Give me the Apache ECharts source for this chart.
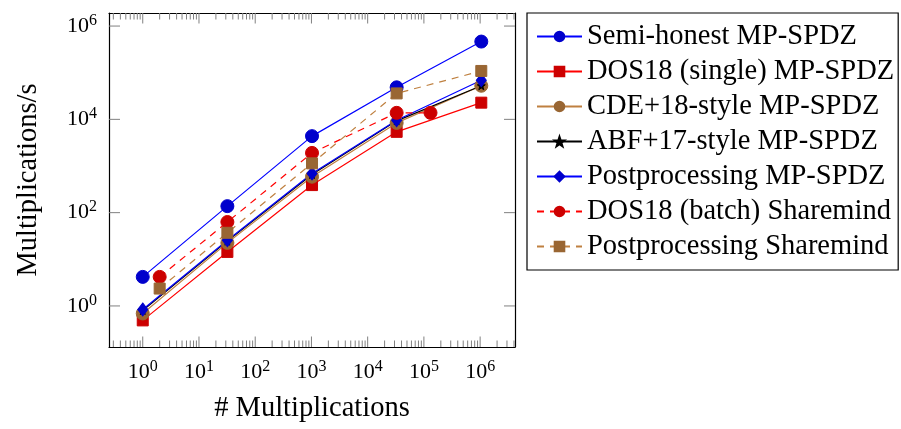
<!DOCTYPE html>
<html>
<head>
<meta charset="utf-8">
<script src="https://cdn.jsdelivr.net/npm/echarts@6/dist/echarts.min.js"></script>
<style>
  html, body { margin: 0; padding: 0; background: #fff; }
  #chart { width: 901px; height: 429px; }
</style>
</head>
<body>
<div id="chart"></div>
<script>
  // # multiplications (x values)
  const mpX = [1, 32, 1024, 32768, 1048576];
  const shX = [2, 32, 1024, 32768, 1048576];
  const batchX = [2, 32, 1024, 32768, 131072];

  // multiplications/s
  const semiHonest = [4.2, 138, 4370, 48600, 465000];
  const dosSingle = [0.49, 14.4, 390, 5400, 22800];
  const cdeStyle = [0.69, 22.5, 590, 8400, 52500];
  const abfStyle = [0.8, 24.5, 660, 9300, 52500];
  const postMp = [0.84, 25.7, 690, 9600, 69000];
  const dosBatch = [4.2, 63, 1910, 13800, 13800];
  const postSh = [2.36, 37, 1140, 36000, 109000];

  // axis ticks
  const xMajorTicks = [1, 10, 100, 1000, 10000, 100000, 1000000];
  const yMajorTicks = [1, 100, 10000, 1000000];

  const names = [
    'Semi-honest MP-SPDZ',
    'DOS18 (single) MP-SPDZ',
    'CDE+18-style MP-SPDZ',
    'ABF+17-style MP-SPDZ',
    'Postprocessing MP-SPDZ',
    'DOS18 (batch) Sharemind',
    'Postprocessing Sharemind',
  ];

  const xMin = Math.pow(10, -0.6);
  const xMax = Math.pow(10, 6.62);
  const yMin = Math.pow(10, -0.88);
  const yMax = Math.pow(10, 6.28);

  const font = 'Liberation Serif';
  const tickColor = '#808080';
  const starPath = 'path://M0,-10L2.35,-3.24L9.51,-3.09L3.8,1.24L5.88,8.09L0,4L-5.88,8.09L-3.8,1.24L-9.51,-3.09L-2.35,-3.24Z';

  const pairs = (xs, ys) => xs.map((x, i) => [x, ys[i]]);

  // minor ticks 2..9 for each decade inside the x range
  const xMinorTicks = [];
  for (let k = -1; k <= 6; k++) {
    for (let m = 2; m <= 9; m++) {
      const v = m * Math.pow(10, k);
      if (v > xMin && v < xMax) xMinorTicks.push(v);
    }
  }
  const tickData = [
    ...xMajorTicks.map(v => [v, 1, 0]),
    ...xMinorTicks.map(v => [v, 1, 1]),
    ...yMajorTicks.map(v => [1, v, 2]),
  ];

  const powLabel = (onlyEven) => (v) => {
    const lg = Math.log10(v);
    const e = Math.round(lg);
    if (Math.abs(lg - e) > 1e-6) return '';
    if (onlyEven && e % 2 !== 0) return '';
    return '{b|10}{s|' + e + '}';
  };
  const labelRich = {
    b: { fontFamily: font, fontSize: 22, color: '#000' },
    s: { fontFamily: font, fontSize: 16, color: '#000', padding: [0, 0, 11, 0] },
  };

  const makeLine = (name, data, color, fill, symbol, size, dashed) => ({
    name: name,
    type: 'line',
    data: data,
    symbol: symbol,
    symbolSize: size,
    showSymbol: true,
    animation: false,
    lineStyle: { color: color, width: 1.2, type: dashed ? [7, 6] : 'solid' },
    itemStyle: { color: fill, borderColor: fill, borderWidth: 1 },
    emphasis: { disabled: true },
  });

  const chart = echarts.init(document.getElementById('chart'));
  const option = {
    animation: false,
    textStyle: { fontFamily: font },
    grid: { left: 109, right: 386, top: 13, bottom: 82 },
    legend: {
      orient: 'vertical',
      left: 527,
      top: 13,
      padding: [9, 4, 9, 9],
      borderColor: '#000',
      borderWidth: 1.2,
      itemWidth: 45,
      itemHeight: 12,
      itemGap: 6,
      textStyle: { fontFamily: font, fontSize: 28.5, color: '#000' },
      data: names,
    },
    xAxis: [
      {
        type: 'log',
        min: xMin,
        max: xMax,
        name: '# Multiplications',
        nameLocation: 'middle',
        nameGap: 47,
        nameTextStyle: { fontFamily: font, fontSize: 28.5, color: '#000' },
        axisLine: { show: true, onZero: false, lineStyle: { color: '#000', width: 1.2 } },
        axisTick: { show: false },
        splitLine: { show: false },
        axisLabel: { margin: 12, formatter: powLabel(false), rich: labelRich },
      },
      {
        type: 'log',
        position: 'top',
        min: xMin,
        max: xMax,
        axisLine: { show: true, onZero: false, lineStyle: { color: '#000', width: 1.2 } },
        axisTick: { show: false },
        splitLine: { show: false },
        axisLabel: { show: false },
      },
    ],
    yAxis: [
      {
        type: 'log',
        min: yMin,
        max: yMax,
        name: 'Multiplications/s',
        nameLocation: 'middle',
        nameGap: 66,
        nameTextStyle: { fontFamily: font, fontSize: 28.5, color: '#000' },
        axisLine: { show: true, onZero: false, lineStyle: { color: '#000', width: 1.2 } },
        axisTick: { show: false },
        splitLine: { show: false },
        axisLabel: { margin: 12, formatter: powLabel(true), rich: labelRich },
      },
      {
        type: 'log',
        position: 'right',
        min: yMin,
        max: yMax,
        axisLine: { show: true, onZero: false, lineStyle: { color: '#000', width: 1.2 } },
        axisTick: { show: false },
        splitLine: { show: false },
        axisLabel: { show: false },
      },
    ],
    series: [
      {
        type: 'custom',
        silent: true,
        z: 1,
        data: tickData,
        renderItem: function (params, api) {
          const cs = params.coordSys;
          const kind = api.value(2);
          const p = api.coord([api.value(0), api.value(1)]);
          const style = { stroke: tickColor, lineWidth: 1 };
          if (kind === 2) {
            const len = 11;
            return {
              type: 'group',
              children: [
                { type: 'line', shape: { x1: cs.x, y1: p[1], x2: cs.x + len, y2: p[1] }, style: style },
                { type: 'line', shape: { x1: cs.x + cs.width, y1: p[1], x2: cs.x + cs.width - len, y2: p[1] }, style: style },
              ],
            };
          }
          const len = kind === 0 ? 10.5 : 6.5;
          const bottom = cs.y + cs.height;
          return {
            type: 'group',
            children: [
              { type: 'line', shape: { x1: p[0], y1: bottom, x2: p[0], y2: bottom - len }, style: style },
              { type: 'line', shape: { x1: p[0], y1: cs.y, x2: p[0], y2: cs.y + len }, style: style },
            ],
          };
        },
      },
      makeLine(names[0], pairs(mpX, semiHonest), '#0000ff', '#0000cc', 'circle', 13, false),
      makeLine(names[1], pairs(mpX, dosSingle), '#ff0000', '#cc0000', 'rect', 11, false),
      makeLine(names[2], pairs(mpX, cdeStyle), '#bf8040', '#996633', 'circle', 13, false),
      makeLine(names[3], pairs(mpX, abfStyle), '#000000', '#000000', starPath, 8, false),
      makeLine(names[4], pairs(mpX, postMp), '#0000ff', '#0000cc', 'diamond', [10, 13], false),
      makeLine(names[5], pairs(batchX, dosBatch), '#ff0000', '#cc0000', 'circle', 13, true),
      makeLine(names[6], pairs(shX, postSh), '#bf8040', '#996633', 'rect', 11, true),
    ],
  };
  chart.setOption(option);
  window.addEventListener('resize', () => chart.resize());
</script>
</body>
</html>
